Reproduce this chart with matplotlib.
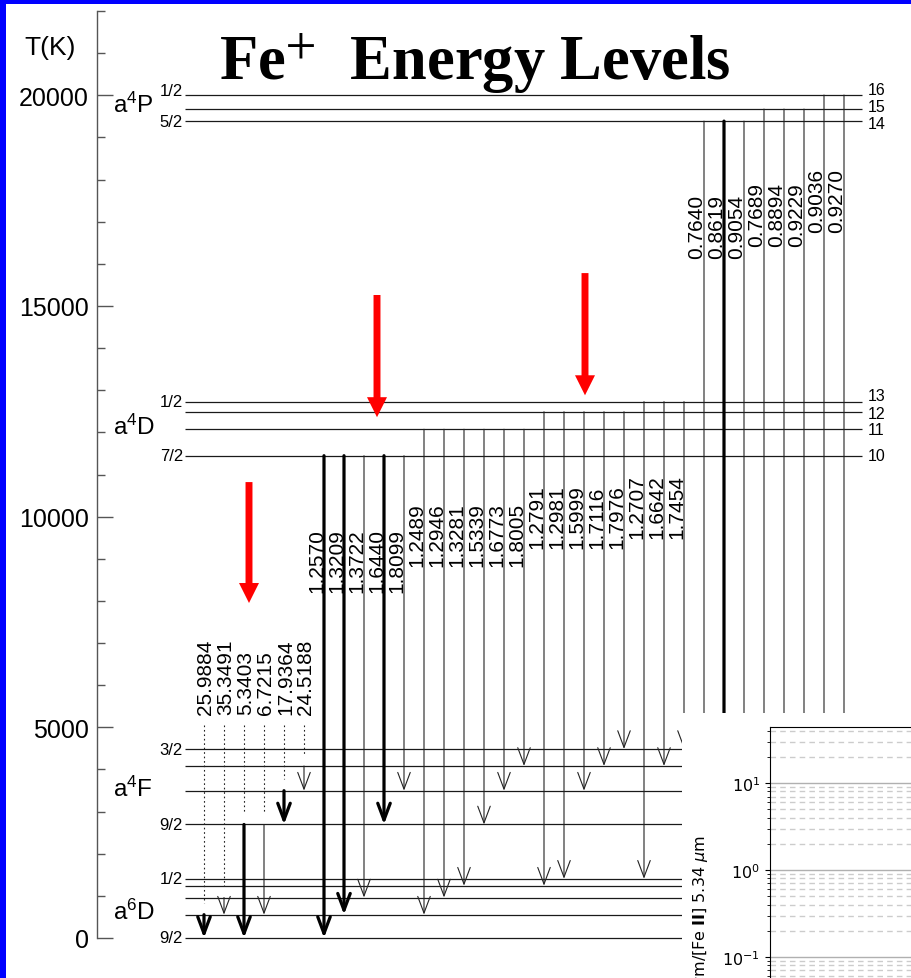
import matplotlib
matplotlib.use('Agg')
import matplotlib.pyplot as plt
from matplotlib.patches import Rectangle
from matplotlib.ticker import MultipleLocator, LogLocator, NullFormatter

plt.rcParams['font.family'] = ['Liberation Sans', 'DejaVu Sans']
plt.rcParams['mathtext.fontset'] = 'dejavusans'
plt.rcParams['mathtext.rm'] = 'Liberation Sans'
plt.rcParams['mathtext.it'] = 'Liberation Sans:italic'
plt.rcParams['mathtext.bf'] = 'Liberation Sans:bold'

# ---------------- data ----------------
# Fe+ level energies (K), levels 1..16
level_T = [0.0, 553.6, 960.7, 1241.1, 1405.8,
           2694.3, 3496.5, 4083.3, 4485.4,
           11446.1, 12074.4, 12489.5, 12728.8,
           19387.0, 19673.0, 20006.3]
level_numbers = ['10', '11', '12', '13', '14', '15', '16']
level_number_idx = [10, 11, 12, 13, 14, 15, 16]
level_number_shift = [0, 0, -45, 140, -50, 50, 140]   # small label nudges (K)

term_names = ['a$^{6}$D', 'a$^{4}$F', 'a$^{4}$D', 'a$^{4}$P']
term_T = [451, 3370, 11960, 19600]

j_labels = ['9/2', '1/2', '9/2', '3/2', '7/2', '1/2', '5/2', '1/2']
j_levels = [1, 5, 6, 9, 10, 13, 14, 16]

# transitions (wavelength in micron), upper and lower level
wavelengths = ['25.9884', '35.3491', '5.3403', '6.7215', '17.9364', '24.5188',
               '1.2570', '1.3209', '1.3722', '1.6440', '1.8099',
               '1.2489', '1.2946', '1.3281', '1.5339', '1.6773', '1.8005',
               '1.2791', '1.2981', '1.5999', '1.7116', '1.7976',
               '1.2707', '1.6642', '1.7454',
               '0.7640', '0.8619', '0.9054',
               '0.7689', '0.8894', '0.9229',
               '0.9036', '0.9270']
upper = [2, 3, 6, 6, 7, 8,
         10, 10, 10, 10, 10,
         11, 11, 11, 11, 11, 11,
         12, 12, 12, 12, 12,
         13, 13, 13,
         14, 14, 14,
         15, 15, 15,
         16, 16]
lower = [1, 2, 1, 2, 6, 7,
         1, 2, 3, 6, 7,
         2, 3, 4, 6, 7, 8,
         4, 5, 7, 8, 9,
         5, 8, 9,
         2, 6, 7,
         3, 7, 8,
         8, 9]
strong = ['25.9884', '5.3403', '17.9364', '1.2570', '1.3209', '1.6440', '0.8619']
midir = ['25.9884', '35.3491', '5.3403', '6.7215', '17.9364', '24.5188']

# red highlight arrows (column, tail T, tip T)
red_col = [2.25, 8.65, 19.05]
red_tail = [10820, 15260, 15780]
red_tip = [7950, 12360, 12880]

# ---------------- figure ----------------
W, H = 912, 979
fig = plt.figure(figsize=(W / 100, H / 100), dpi=100)
fig.patch.set_facecolor('white')


def fx(px):
    return px / W


def fy(py):
    return 1 - py / H


ax = fig.add_axes([fx(97), fy(939), fx(912) - fx(97), (939 - 12) / H])
ax.patch.set_visible(False)
ax.set_xlim(-5.35, 35.4)
ax.set_ylim(0, 22000)
for s in ['top', 'right', 'bottom']:
    ax.spines[s].set_visible(False)
ax.spines['left'].set_color('#555555')
ax.spines['left'].set_linewidth(1.0)
ax.set_xticks([])
ax.yaxis.set_major_locator(MultipleLocator(5000))
ax.yaxis.set_minor_locator(MultipleLocator(1000))
ax.tick_params(axis='y', which='major', direction='in', length=11.5, width=1,
               color='#555555', labelsize=18, pad=6)
ax.tick_params(axis='y', which='minor', direction='in', length=5.8, width=1,
               color='#555555')
ax.yaxis.set_major_formatter(matplotlib.ticker.FuncFormatter(lambda v, p: f'{int(v)}'))

# level lines
ax.hlines(level_T, -0.95, 32.9, color='#1a1a1a', lw=0.9, zorder=2, clip_on=False)

# right-hand level numbers
for lab, idx, sh in zip(level_numbers, level_number_idx, level_number_shift):
    ax.text(33.2, level_T[idx - 1] + sh, lab, fontsize=11.5, ha='left', va='center')

# J labels
for lab, idx in zip(j_labels, j_levels):
    dy = 110 if idx == 16 else 0
    ax.text(-1.05, level_T[idx - 1] + dy, lab, fontsize=12, ha='right', va='center')

# term labels
for name, t in zip(term_names, term_T):
    ax.text(-4.55, t, name, fontsize=17.5, ha='left', va='baseline',
            math_fontfamily='custom')

# transitions
for k, (wl, u, l) in enumerate(zip(wavelengths, upper, lower)):
    Tu = level_T[u - 1]
    Tl = level_T[l - 1]
    thick = wl in strong
    lw = 2.3 if thick else 0.8
    col = 'black' if thick else '#222222'
    ax.annotate('', xy=(k, Tl), xytext=(k, Tu), annotation_clip=False,
                arrowprops=dict(arrowstyle='->,head_length=1.2,head_width=0.45',
                                lw=lw, color=col, shrinkA=0, shrinkB=0,
                                mutation_scale=10, clip_on=False), zorder=3)
    if wl in midir:
        ax.plot([k, k], [5050, Tu + 285], ls=(0, (1.5, 2.5)), lw=0.8,
                color='#222222', zorder=3)
        ax.text(k + 0.1, 5316, wl, rotation=90, rotation_mode='anchor',
                ha='left', va='center', fontsize=15)
    else:
        ax.text(k - 0.1, Tu - 3240, wl, rotation=90, rotation_mode='anchor',
                ha='left', va='baseline', fontsize=15)

# red arrows
for c, t0, t1 in zip(red_col, red_tail, red_tip):
    ax.annotate('', xy=(c, t1), xytext=(c, t0),
                arrowprops=dict(arrowstyle='simple,head_length=1.44,head_width=1.44,tail_width=0.5',
                                color='#ff0000', lw=0, shrinkA=0, shrinkB=0,
                                mutation_scale=10), zorder=5)

# texts outside axes
fig.text(fx(50), fy(48), 'T(K)', fontsize=19, ha='center', va='center')
fig.text(fx(474.5), fy(80), r'Fe$^{+}$  Energy Levels', fontsize=45,
         family='Liberation Serif', weight='bold', math_fontfamily='stix',
         ha='center', va='baseline')

# blue slide frame
fig.patches.append(Rectangle((0, 0), fx(6), 1, transform=fig.transFigure,
                             facecolor='#0000ff', edgecolor='none', zorder=10))
fig.patches.append(Rectangle((0, fy(5)), 1, 1 - fy(5), transform=fig.transFigure,
                             facecolor='#0000ff', edgecolor='none', zorder=10))

# pasted inset panel (white background)
fig.patches.append(Rectangle((fx(681.5), 0), 1 - fx(681.5), fy(714),
                             transform=fig.transFigure, facecolor='white',
                             edgecolor='none', zorder=1))

ax2 = fig.add_axes([fx(770), fy(1100), fx(1100) - fx(770), (1100 - 728) / H],
                   zorder=3)
ax2.set_yscale('log')
ax2.set_ylim(10 ** -2.632, 10 ** 1.644)
ax2.set_xlim(0, 1)
ax2.set_xticks([])
ax2.yaxis.set_major_locator(LogLocator(base=10, numticks=10))
ax2.yaxis.set_minor_locator(LogLocator(base=10, subs=range(2, 10), numticks=20))
ax2.yaxis.set_minor_formatter(NullFormatter())
ax2.tick_params(axis='y', labelsize=11.5, labelfontfamily='DejaVu Sans')
ax2.grid(True, which='major', axis='y', color='#b0b0b0', lw=1.0)
ax2.grid(True, which='minor', axis='y', color='#cccccc', lw=1.0, ls=(0, (4, 3)))
ax2.set_axisbelow(True)
fig.text(fx(700), fy(835), r'[Fe $\mathbf{II}$] 17.94 $\mu$m/[Fe $\mathbf{II}$] 5.34 $\mu$m',
         rotation=90, ha='center', va='top', fontsize=11.5, family='DejaVu Sans',
         math_fontfamily='dejavusans', zorder=4)

fig.savefig('out.png', dpi=100)
